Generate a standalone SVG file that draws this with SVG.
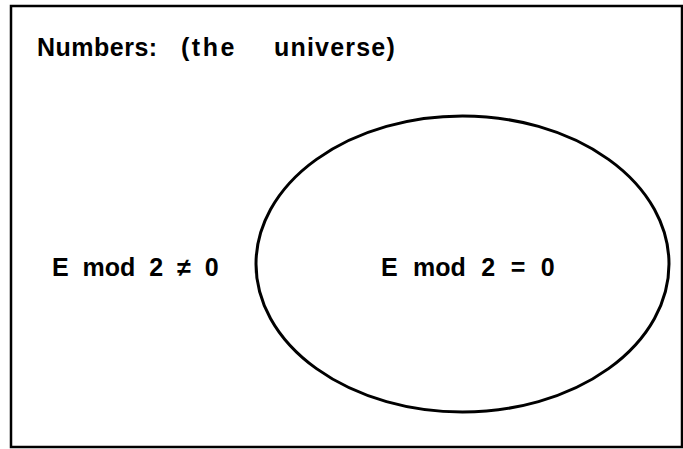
<svg xmlns="http://www.w3.org/2000/svg" width="683" height="449" viewBox="0 0 683 449">
<style>
.t{font-family:"Liberation Sans",Arial,sans-serif;font-weight:bold;font-size:25px;fill:#000}
.frame{fill:none;stroke:#000;stroke-width:2.5}
.set{fill:none;stroke:#000;stroke-width:3}
</style>
<rect x="0" y="0" width="683" height="449" fill="#fff"/>
<g id="universe">
<rect class="frame" x="11" y="6" width="671" height="441"/>
<text class="t" y="56"><tspan x="37" letter-spacing="0.5">Numbers:</tspan> <tspan x="181" letter-spacing="2.5">(the</tspan> <tspan x="274" letter-spacing="1.2">universe)</tspan></text>
</g>
<g id="odd">
<text class="t" x="52" y="275.5" word-spacing="7">E mod 2 ≠ 0</text>
</g>
<g id="even">
<ellipse class="set" cx="462.5" cy="264" rx="206.5" ry="148"/>
<text class="t" x="381" y="275.5" word-spacing="8.5">E mod 2 = 0</text>
</g>
<g id="connectors"></g>
</svg>
